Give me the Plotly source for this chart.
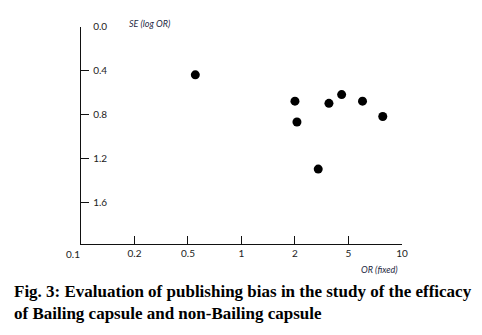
import numpy as np
import plotly.graph_objects as go

# Data
or_values = [0.55, 2.0, 2.07, 3.58, 4.45, 6.0, 7.8, 2.98]
se_values = [0.44, 0.68, 0.87, 0.70, 0.62, 0.68, 0.82, 1.30]

x_tick_values = [0.1, 0.2, 0.5, 1, 2, 5, 10]
x_tick_labels = ["0.1", "0.2", "0.5", "1", "2", "5", "10"]
y_tick_values = [0.0, 0.4, 0.8, 1.2, 1.6]
y_tick_labels = ["0.0", "0.4", "0.8", "1.2", "1.6"]

caption = ("<b>Fig. 3: Evaluation of publishing bias in the study of the efficacy<br>"
           "of Bailing capsule and non-Bailing capsule</b>")

# The axis places the OR ticks at equal spacing; map OR onto that scale
pos_idx = np.arange(len(x_tick_values))
x_pos = np.interp(np.log10(or_values), np.log10(x_tick_values), pos_idx)

W, H = 482, 335
x0, x1 = 82, 407
y_top, y_bot = 21, 242

fig = go.Figure()
fig.add_trace(go.Scatter(
    x=x_pos, y=se_values, mode="markers",
    marker=dict(size=9, color="black"),
    showlegend=False, hoverinfo="skip", cliponaxis=False))

tick_font = dict(family="Lato, Carlito, sans-serif", size=10, color="#222222")
fig.update_layout(
    width=W, height=H,
    margin=dict(l=0, r=0, t=0, b=0),
    paper_bgcolor="white", plot_bgcolor="white",
    xaxis=dict(
        domain=[x0 / W, x1 / W],
        range=[0, 6],
        tickmode="array",
        tickvals=list(pos_idx[1:]),
        ticktext=x_tick_labels[1:],
        ticks="inside", ticklen=8, tickwidth=1.3, tickcolor="#111",
        showline=True, linecolor="#111", linewidth=1.3,
        showgrid=False, zeroline=False,
        tickfont=tick_font,
    ),
    yaxis=dict(
        domain=[1 - y_bot / H, 1 - y_top / H],
        range=[1.98, 0],
        tickmode="array",
        tickvals=y_tick_values,
        ticktext=y_tick_labels,
        ticks="inside", ticklen=8, tickwidth=1.3, tickcolor="#111",
        ticklabelposition="inside",
        ticklabeloverflow="allow",
        ticklabelstandoff=3,
        showline=True, linecolor="#111", linewidth=1.3,
        showgrid=False, zeroline=False,
        tickfont=tick_font,
    ),
)

# '0.1' label sits a little left of the axis corner
fig.add_annotation(x=pos_idx[0], y=1 - y_bot / H, xref="x", yref="paper",
                   text=x_tick_labels[0], showarrow=False, font=tick_font,
                   xanchor="center", yanchor="top", xshift=-8, yshift=-2)

title_font = dict(family="Lato, Carlito, sans-serif", size=9, color="#1f2a44")
fig.add_annotation(x=129 / W, y=1 - 18 / H, xref="paper", yref="paper",
                   text="<i>SE (log OR)</i>", showarrow=False, font=title_font,
                   xanchor="left", yanchor="middle")
fig.add_annotation(x=405 / W, y=1 - 268 / H, xref="paper", yref="paper",
                   text="<i>OR (fixed)</i>", showarrow=False, font=title_font,
                   xanchor="right", yanchor="middle")

fig.add_annotation(x=12 / W, y=1 - 279 / H, xref="paper", yref="paper",
                   text=caption, showarrow=False, align="left",
                   font=dict(family="Liberation Serif, Times New Roman, serif",
                             size=17, color="black"),
                   xanchor="left", yanchor="top")

fig.write_html("out.html")
